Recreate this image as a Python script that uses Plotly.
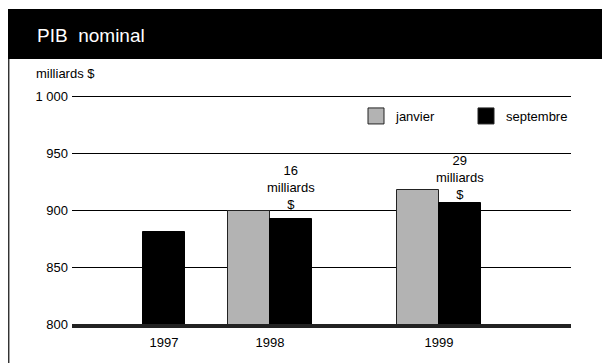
import plotly.graph_objects as go

# data
years = ["1997", "1998", "1999"]
janvier = [None, 899, 918]
septembre = [881, 892, 906]
notes = [None, "16<br>milliards<br>$", "29<br>milliards<br>$"]
y_ticks = [800, 850, 900, 950, 1000]
y_tick_labels = ["800", "850", "900", "950", "1 000"]

# layout (x axis units are pixels of the plot area)
centres = [92, 198, 367]
bar_w = 42
W, H = 610, 363
L, R, T, B = 64, 47, 86, 47
FONT = "Liberation Sans, Arial, Helvetica, sans-serif"


def px(x=None, y=None):
    # figure pixels -> paper coordinates
    pw, ph = W - L - R, H - T - B
    if x is not None:
        return (x - L) / pw
    return (H - B - y) / ph


fig = go.Figure()

fig.add_trace(go.Bar(
    x=centres, y=janvier, width=bar_w, offset=-bar_w,
    marker=dict(color="#b3b3b3", line=dict(color="#222", width=1)),
    name="janvier", showlegend=False, hoverinfo="y",
))
fig.add_trace(go.Bar(
    x=centres, y=septembre, width=bar_w,
    offset=[-bar_w / 2 if j is None else 0 for j in janvier],
    marker=dict(color="#000", line=dict(color="#000", width=1)),
    name="septembre", showlegend=False, hoverinfo="y",
))

# legend entries with square swatches
for name, col in [("janvier", "#b3b3b3"), ("septembre", "#000")]:
    fig.add_trace(go.Scatter(
        x=[None], y=[None], mode="markers", name=name,
        marker=dict(symbol="square", size=20, color=col, line=dict(color="#222", width=1)),
    ))

shifts = [0, 5, -1]
for c, s, note, sh in zip(centres, septembre, notes, shifts):
    if note:
        fig.add_annotation(x=c + bar_w / 2, y=s, text=note, showarrow=False,
                           yanchor="bottom", yshift=sh, font=dict(size=13, color="#000"))

# header band, frame line, title
fig.add_shape(type="rect", xref="paper", yref="paper", x0=px(x=0), x1=px(x=W + 2),
              y0=px(y=51), y1=px(y=1), fillcolor="#000", line_width=0, layer="above")
fig.add_shape(type="line", xref="paper", yref="paper", x0=px(x=0.7), x1=px(x=0.7),
              y0=px(y=51), y1=px(y=H + 2), line=dict(color="#333", width=1.5))
fig.add_annotation(xref="paper", yref="paper", x=px(x=27), y=px(y=28), xanchor="left",
                   yanchor="middle", text="PIB\u00a0 nominal", showarrow=False,
                   font=dict(size=19, color="#fff"))
fig.add_annotation(xref="paper", yref="paper", x=px(x=26), y=px(y=65), xanchor="left",
                   yanchor="middle", text="milliards $", showarrow=False,
                   font=dict(size=13, color="#000"))

fig.update_layout(
    width=W, height=H, margin=dict(l=L, r=R, t=T, b=B),
    paper_bgcolor="#fff", plot_bgcolor="#fff",
    barmode="overlay", bargap=0,
    font=dict(family=FONT, size=13, color="#000"),
    legend=dict(orientation="h", x=px(x=348), y=px(y=93), xanchor="left", yanchor="top",
                itemsizing="trace", bgcolor="rgba(0,0,0,0)", font=dict(size=13),
                entrywidth=65, entrywidthmode="pixels"),
    xaxis=dict(range=[0, W - L - R], tickvals=centres, ticktext=years, showgrid=False,
               zeroline=False, showline=True, linecolor="#222", linewidth=4, ticks="",
               ticklabelstandoff=3),
    yaxis=dict(range=[800, 1001.8], tickvals=y_ticks, ticktext=y_tick_labels,
               showgrid=True, gridcolor="#000", gridwidth=1, zeroline=False, ticks="",
               ticklabelstandoff=3),
)

fig.write_html("out.html")
